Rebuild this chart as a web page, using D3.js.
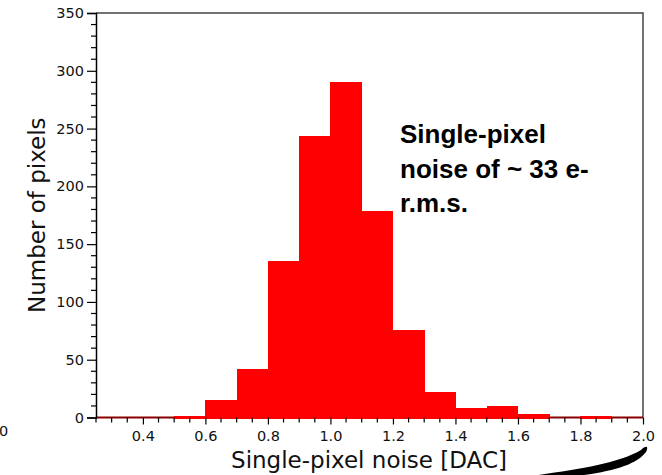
<!DOCTYPE html>
<html><head><meta charset="utf-8">
<script src="https://cdn.jsdelivr.net/npm/d3@7/dist/d3.min.js"></script>
<style>html,body{margin:0;padding:0;background:#fff;}svg{display:block;}</style>
</head><body>
<script>
const binStarts = [0.3,0.4,0.5,0.6,0.7,0.8,0.9,1.0,1.1,1.2,1.3,1.4,1.5,1.6,1.7,1.8,1.9];
const counts    = [0,  0,  1,  15, 42, 135,244,290,179,76, 22, 8,  10, 3,  0,  1,  0];
const binWidth = 0.1;
const xTicks = [0.4,0.6,0.8,1.0,1.2,1.4,1.6,1.8,2.0];
const yTicks = [0,50,100,150,200,250,300,350];
const xLabel = "Single-pixel noise [DAC]";
const yLabel = "Number of pixels";
const note = ["Single-pixel", "noise of ~ 33 e-", "r.m.s."];

const W = 662, H = 475;
const L = 96, R = 643, T = 13, B = 417.5;
const svg = d3.select("body").append("svg").attr("width", W).attr("height", H);
const x = d3.scaleLinear().domain([0.25, 2.0]).range([L, R]);
const y = d3.scaleLinear().domain([0, 350]).range([B, T]);

// frame top/right
svg.append("path").attr("d", `M${L},${T}H${R}V${B}`).attr("fill","none").attr("stroke","#444").attr("stroke-width",1.5);

// baseline dark red
svg.append("line").attr("x1", L).attr("x2", R).attr("y1", B).attr("y2", B)
  .attr("stroke", "#8b0000").attr("stroke-width", 2);

// bars
svg.append("g").attr("shape-rendering","crispEdges")
  .selectAll("rect").data(binStarts.map((s,i)=>({s, c: counts[i]})).filter(d=>d.c>0))
  .join("rect")
  .attr("x", d => x(d.s))
  .attr("width", d => x(d.s + binWidth) - x(d.s) + 0.3)
  .attr("y", d => y(d.c))
  .attr("height", d => B + 1 - y(d.c))
  .attr("fill", "#ff0000");

// y axis
const yAxis = d3.axisLeft(y).tickValues(yTicks).tickSize(9).tickPadding(3).tickFormat(d3.format("d"));
const gy = svg.append("g").attr("transform", `translate(${L},0)`).call(yAxis);
gy.select(".domain").attr("stroke","#000").attr("stroke-width",1.5);
gy.selectAll(".tick line").attr("stroke","#000").attr("stroke-width",1.2);
gy.selectAll(".tick text").attr("font-family","DejaVu Sans").attr("font-size",14.5).attr("fill","#111");
const yMinor = d3.range(0, 351, 10).filter(v => v % 50 !== 0);
svg.append("g").selectAll("line").data(yMinor).join("line")
  .attr("x1", L-5).attr("x2", L).attr("y1", d=>y(d)).attr("y2", d=>y(d))
  .attr("stroke","#000").attr("stroke-width",1.2);

// x axis
const xAxis = d3.axisBottom(x).tickValues(xTicks).tickSize(7).tickPadding(6).tickFormat(d3.format(".1f"));
const gx = svg.append("g").attr("transform", `translate(0,${B})`).call(xAxis);
gx.select(".domain").remove();
gx.selectAll(".tick line").attr("stroke","#000").attr("stroke-width",1.2);
gx.selectAll(".tick text").attr("font-family","DejaVu Sans").attr("font-size",14.5).attr("fill","#111");
const xMinor = d3.range(0.25, 2.0001, 0.05).filter(v => Math.abs(v*5 - Math.round(v*5)) > 1e-6);
svg.append("g").selectAll("line").data(xMinor).join("line")
  .attr("x1", d=>x(d)).attr("x2", d=>x(d)).attr("y1", B).attr("y2", B+5)
  .attr("stroke","#000").attr("stroke-width",1.2);

// axis labels
svg.append("text").attr("x", 369).attr("y", 468).attr("text-anchor","middle")
  .attr("font-family","DejaVu Sans").attr("font-size",23).attr("fill","#111").text(xLabel);
svg.append("text").attr("transform", `translate(45,${(T+B)/2}) rotate(-90)`).attr("text-anchor","middle")
  .attr("font-family","DejaVu Sans").attr("font-size",23).attr("fill","#111").text(yLabel);

// annotation
const ann = svg.append("text").attr("font-family","Liberation Sans, Arial, sans-serif").attr("font-weight","bold")
  .attr("font-size",26).attr("fill","#000");
note.forEach((t,i)=> ann.append("tspan").attr("x", 400).attr("y", 143 + i*34.5).text(t));

// stray "0" at bottom left
svg.append("text").attr("x", -1).attr("y", 436).attr("font-family","DejaVu Sans").attr("font-size",14.5).attr("fill","#111").text("0");

// swoosh decoration
svg.append("path").attr("d","M500,481 C585,478 632,471 646,452 C649,446 646,445 641,450 C612,467 560,471 500,481 Z")
  .attr("fill","#000");
</script>
</body></html>
